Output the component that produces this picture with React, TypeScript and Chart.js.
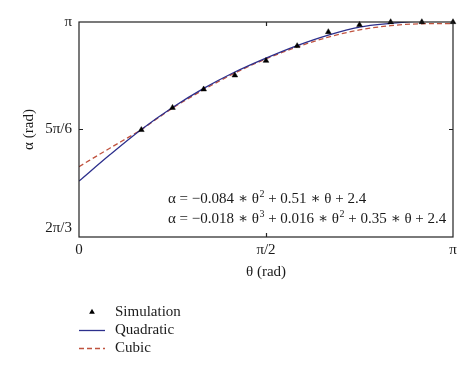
import React, { useEffect, useRef } from "react";
import { Chart, registerables } from "chart.js";

Chart.register(...registerables);

const PI = Math.PI;

// Simulation samples (θ in rad, α in rad)
const simTheta = [PI / 6, PI / 4, PI / 3, (5 * PI) / 12, PI / 2, (7 * PI) / 12, (2 * PI) / 3, (3 * PI) / 4, (5 * PI) / 6, (11 * PI) / 12, PI];
const simAlpha = [2.616, 2.724, 2.814, 2.882, 2.953, 3.025, 3.093, 3.128, 3.1416, 3.1416, 3.1416];

// Fitted curves
const fitTheta = [0, PI / 12, PI / 6, PI / 4, PI / 3, (5 * PI) / 12, PI / 2, (7 * PI) / 12, (2 * PI) / 3, (3 * PI) / 4, (5 * PI) / 6, (11 * PI) / 12, PI];
const quadAlpha = [2.367, 2.496, 2.618, 2.725, 2.818, 2.898, 2.966, 3.027, 3.078, 3.117, 3.135, 3.146, 3.147];
const cubicAlpha = [2.437, 2.528, 2.618, 2.722, 2.812, 2.893, 2.962, 3.02, 3.068, 3.103, 3.124, 3.133, 3.134];

// Ticks
const xTickValues = [0, PI / 2, PI];
const xTickLabels = ["0", "π/2", "π"];
const yTickValues = [(2 * PI) / 3, (5 * PI) / 6, PI];
const yTickLabels = ["2π/3", "5π/6", "π"];

const seriesLabels = ["Simulation", "Quadratic", "Cubic"];

// Equation annotations: [text, isSuperscript]
const eq1: [string, boolean][] = [
  ["α = −0.084 ∗ θ", false],
  ["2", true],
  [" + 0.51 ∗ θ + 2.4", false],
];
const eq2: [string, boolean][] = [
  ["α = −0.018 ∗ θ", false],
  ["3", true],
  [" + 0.016 ∗ θ", false],
  ["2", true],
  [" + 0.35 ∗ θ + 2.4", false],
];

const FONT = "'Liberation Serif', 'DejaVu Serif', serif";
const TEXT = "#1a1a1a";
const BLUE = "#2c2f8c";
const RED = "#c0533f";

function drawRich(ctx: CanvasRenderingContext2D, parts: [string, boolean][], x: number, y: number) {
  let cx = x;
  ctx.textBaseline = "middle";
  ctx.textAlign = "left";
  for (const [t, sup] of parts) {
    if (sup) {
      ctx.font = `10px ${FONT}`;
      ctx.fillText(t, cx + 0.5, y - 5);
      cx += ctx.measureText(t).width + 0.5;
    } else {
      ctx.font = `15px ${FONT}`;
      ctx.fillText(t, cx, y);
      cx += ctx.measureText(t).width;
    }
  }
}

const overlay = {
  id: "overlay",
  afterDraw(chart: any) {
    const { ctx, chartArea: a, scales } = chart;
    const xs = scales.x;
    const ys = scales.y;
    ctx.save();
    // frame
    ctx.strokeStyle = "#222";
    ctx.lineWidth = 1.2;
    ctx.strokeRect(a.left, a.top, a.right - a.left, a.bottom - a.top);
    // inward ticks on all sides
    const tl = 4;
    ctx.beginPath();
    xTickValues.forEach((v) => {
      const px = Math.round(xs.getPixelForValue(v)) + 0.5;
      if (px > a.left + 2 && px < a.right - 2) {
        ctx.moveTo(px, a.bottom);
        ctx.lineTo(px, a.bottom - tl);
        ctx.moveTo(px, a.top);
        ctx.lineTo(px, a.top + tl);
      }
    });
    yTickValues.forEach((v) => {
      const py = Math.round(ys.getPixelForValue(v)) + 0.5;
      if (py > a.top + 2 && py < a.bottom - 2) {
        ctx.moveTo(a.left, py);
        ctx.lineTo(a.left + tl, py);
        ctx.moveTo(a.right, py);
        ctx.lineTo(a.right - tl, py);
      }
    });
    ctx.stroke();

    // equations
    ctx.fillStyle = TEXT;
    drawRich(ctx, eq1, 168, 199);
    drawRich(ctx, eq2, 168, 219);

    // legend
    const rows = [312, 330, 348];
    chart.data.datasets.forEach((ds: any, i: number) => {
      const y = rows[i];
      if (ds.showLine === false) {
        const r = 3.3;
        ctx.fillStyle = "#000";
        ctx.beginPath();
        ctx.moveTo(92, y - r);
        ctx.lineTo(92 + r * 0.866, y + r / 2);
        ctx.lineTo(92 - r * 0.866, y + r / 2);
        ctx.closePath();
        ctx.fill();
      } else {
        ctx.strokeStyle = ds.borderColor;
        ctx.lineWidth = ds.borderWidth;
        ctx.setLineDash(ds.borderDash || []);
        ctx.beginPath();
        ctx.moveTo(79, y + 0.5);
        ctx.lineTo(105, y + 0.5);
        ctx.stroke();
        ctx.setLineDash([]);
      }
      ctx.fillStyle = TEXT;
      ctx.font = `15px ${FONT}`;
      ctx.textAlign = "left";
      ctx.textBaseline = "middle";
      ctx.fillText(ds.label, 115, y);
    });
    ctx.restore();
  },
};

export default function App() {
  const ref = useRef<HTMLCanvasElement | null>(null);

  useEffect(() => {
    if (!ref.current) return;
    const chart = new Chart(ref.current, {
      type: "line",
      data: {
        datasets: [
          {
            label: seriesLabels[0],
            data: simTheta.map((t, i) => ({ x: t, y: simAlpha[i] })),
            showLine: false,
            pointStyle: "triangle",
            pointRadius: 3.3,
            pointBackgroundColor: "#000",
            pointBorderColor: "#000",
            pointBorderWidth: 0.5,
            borderColor: "#000",
            backgroundColor: "#000",
            clip: false as any,
          },
          {
            label: seriesLabels[1],
            data: fitTheta.map((t, i) => ({ x: t, y: quadAlpha[i] })),
            borderColor: BLUE,
            borderWidth: 1.3,
            pointRadius: 0,
            cubicInterpolationMode: "monotone",
            fill: false,
          },
          {
            label: seriesLabels[2],
            data: fitTheta.map((t, i) => ({ x: t, y: cubicAlpha[i] })),
            borderColor: RED,
            borderWidth: 1.3,
            borderDash: [5, 3],
            pointRadius: 0,
            cubicInterpolationMode: "monotone",
            fill: false,
          },
        ],
      },
      options: {
        animation: false,
        responsive: false,
        devicePixelRatio: 1,
        layout: { padding: { top: 22, right: 21, bottom: 93, left: 0 } },
        plugins: { legend: { display: false }, tooltip: { enabled: false } },
        scales: {
          x: {
            type: "linear",
            min: 0,
            max: PI,
            grid: { display: false, drawTicks: false },
            border: { display: false },
            afterBuildTicks: (s: any) => {
              s.ticks = xTickValues.map((v) => ({ value: v }));
            },
            afterFit: (s: any) => {
              s.height = 44;
            },
            ticks: {
              padding: 4,
              color: TEXT,
              font: { family: FONT, size: 15 },
              maxRotation: 0,
              autoSkip: false,
              callback: (_v: any, i: number) => xTickLabels[i],
            },
            title: {
              display: true,
              text: "θ (rad)",
              color: TEXT,
              font: { family: FONT, size: 15 },
              padding: { top: 0, bottom: 0 },
            },
          },
          y: {
            type: "linear",
            min: (2 * PI) / 3,
            max: PI,
            grid: { display: false, drawTicks: false },
            border: { display: false },
            afterBuildTicks: (s: any) => {
              s.ticks = yTickValues.map((v) => ({ value: v }));
            },
            afterFit: (s: any) => {
              s.width = 79;
            },
            ticks: {
              padding: 7,
              color: TEXT,
              font: { family: FONT, size: 15 },
              autoSkip: false,
              callback: (_v: any, i: number) => (i === 0 ? [yTickLabels[i], ""] : yTickLabels[i]),
            },
            title: {
              display: true,
              text: "α (rad)",
              color: TEXT,
              font: { family: FONT, size: 15 },
              padding: { top: 20, bottom: 0 },
            },
          },
        },
      },
      plugins: [overlay],
    });
    return () => chart.destroy();
  }, []);

  return (
    <div style={{ position: "absolute", left: 0, top: 0, width: 474, height: 374, background: "#fff" }}>
      <canvas ref={ref} width={474} height={374} style={{ display: "block" }} />
    </div>
  );
}
